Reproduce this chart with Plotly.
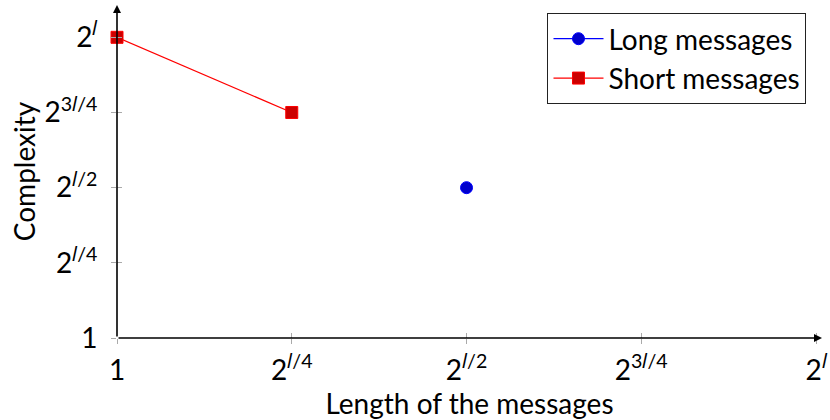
import plotly.graph_objects as go

# Data (exponent of 2 in units of l/4)
long_x = [2]
long_y = [2]
short_x = [0, 1]
short_y = [4, 3]

L = "\U0001D459"  # mathematical italic small l
x_tickvals = [0, 1, 2, 3, 4]
x_ticktext = ["1", f"2<sup>{L}/4</sup>", f"2<sup>{L}/2</sup>", f"2<sup>3{L}/4</sup>", f"2<sup>{L}</sup>"]
y_tickvals = [0, 1, 2, 3, 4]
y_ticktext = ["1", f"2<sup>{L}/4</sup>", f"2<sup>{L}/2</sup>", f"2<sup>3{L}/4</sup>", f"2<sup>{L}</sup>"]

FONT = "Lato"
FS = 28
XR = [0, 4.034]
YR = [0, 4.43]
TICKC = "#aaaaaa"

fig = go.Figure()
fig.add_trace(go.Scatter(x=long_x, y=long_y, mode="lines+markers", name="Long messages",
                         cliponaxis=False,
                         line=dict(color="#0000ff", width=1.3),
                         marker=dict(symbol="circle", size=12, color="#0000cc",
                                     line=dict(color="#0000ff", width=1))))
fig.add_trace(go.Scatter(x=short_x, y=short_y, mode="lines+markers", name="Short messages",
                         cliponaxis=False,
                         line=dict(color="#ff0000", width=1.3),
                         marker=dict(symbol="square", size=12, color="#cc0000",
                                     line=dict(color="#ff0000", width=1))))
# invisible trace anchoring overlay axes (ticks crossing the axis line)
fig.add_trace(go.Scatter(x=[0], y=[0], xaxis="x2", yaxis="y2", mode="markers",
                         marker=dict(opacity=0), showlegend=False, hoverinfo="skip"))

fig.update_layout(
    width=830, height=420,
    margin=dict(l=117, r=8, t=5, b=82, autoexpand=False),
    plot_bgcolor="white", paper_bgcolor="white",
    font=dict(family=FONT, size=FS, color="black"),
    showlegend=True,
    legend=dict(x=0.978, y=0.976, xanchor="right", yanchor="top",
                bordercolor="#222222", borderwidth=1, bgcolor="white",
                font=dict(size=FS), tracegroupgap=0, itemwidth=50),
    xaxis=dict(range=XR, tickvals=x_tickvals, ticktext=x_ticktext, automargin=False,
               showgrid=False, zeroline=False, showline=False,
               ticks="outside", ticklen=5, tickcolor=TICKC, tickwidth=1, ticklabelstandoff=2,
               title=dict(text="Length of the messages", standoff=0, font=dict(size=FS))),
    yaxis=dict(range=YR, tickvals=y_tickvals, ticktext=y_ticktext, automargin=False,
               showgrid=False, zeroline=False, showline=False,
               ticks="outside", ticklen=5, tickcolor=TICKC, tickwidth=1, ticklabelstandoff=8,
               title=dict(text="Complexity", standoff=0, font=dict(size=FS))),
    xaxis2=dict(range=XR, overlaying="x", tickvals=x_tickvals, showticklabels=False,
                showgrid=False, zeroline=False, showline=False, anchor="y2", automargin=False,
                ticks="inside", ticklen=5, tickcolor=TICKC, tickwidth=1),
    yaxis2=dict(range=YR, overlaying="y", tickvals=y_tickvals, showticklabels=False,
                showgrid=False, zeroline=False, showline=False, anchor="x2", automargin=False,
                ticks="inside", ticklen=5, tickcolor=TICKC, tickwidth=1),
)

# Axis lines with arrowheads
fig.add_annotation(x=XR[1], y=0, ax=0, ay=0, xref="x", yref="y", axref="x", ayref="y",
                   text="", showarrow=True, arrowhead=2, arrowsize=1, arrowwidth=1.6,
                   arrowcolor="black")
fig.add_annotation(x=0, y=YR[1], ax=0, ay=0, xref="x", yref="y", axref="x", ayref="y",
                   text="", showarrow=True, arrowhead=2, arrowsize=1, arrowwidth=1.6,
                   arrowcolor="black")

fig.write_html("out.html", config={"displayModeBar": False},
               post_script="document.body.style.margin='0px';")
